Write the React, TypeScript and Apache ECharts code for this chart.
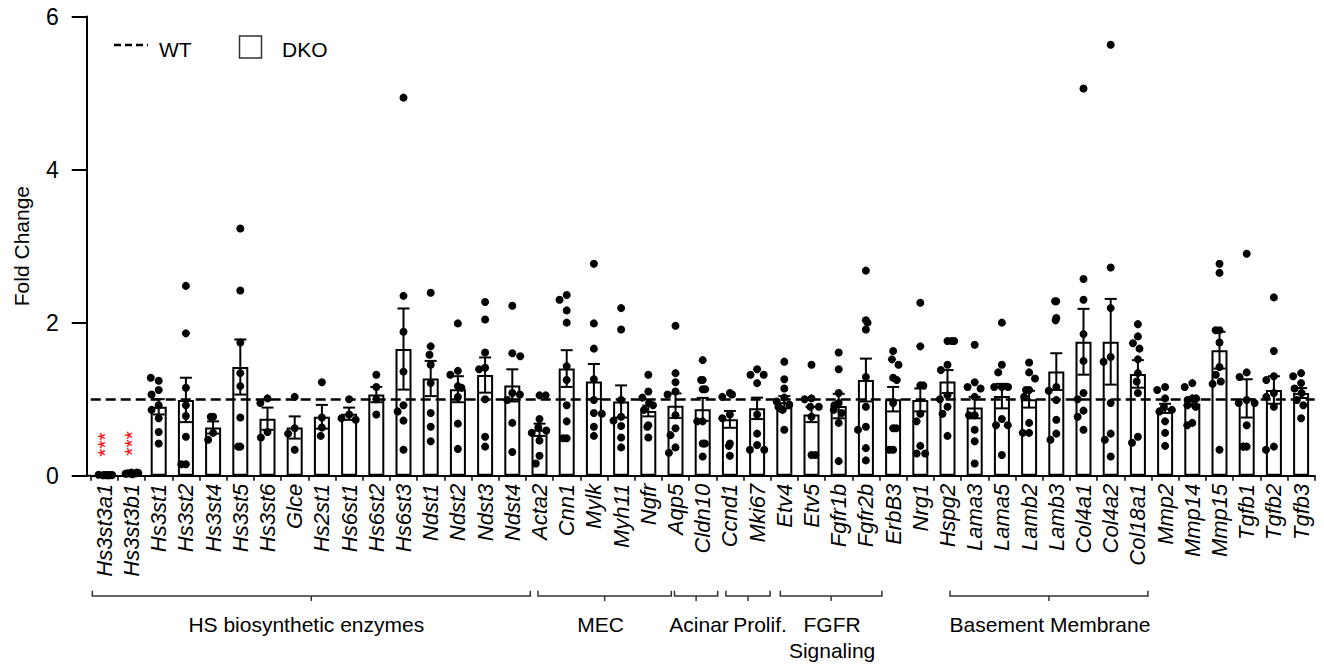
import React, { useEffect, useRef } from "react";
import * as echarts from "echarts";

// ---------------- DATA ----------------
const genes = [
  "Hs3st3a1", "Hs3st3b1", "Hs3st1", "Hs3st2", "Hs3st4", "Hs3st5", "Hs3st6", "Glce",
  "Hs2st1", "Hs6st1", "Hs6st2", "Hs6st3", "Ndst1", "Ndst2", "Ndst3", "Ndst4",
  "Acta2", "Cnn1", "Mylk", "Myh11", "Ngfr",
  "Aqp5", "Cldn10",
  "Ccnd1", "Mki67",
  "Etv4", "Etv5", "Fgfr1b", "Fgfr2b", "ErbB3", "Nrg1",
  "Hspg2", "Lama3", "Lama5", "Lamb2", "Lamb3", "Col4a1", "Col4a2", "Col18a1",
  "Mmp2", "Mmp14", "Mmp15", "Tgfb1", "Tgfb2", "Tgfb3",
];

// DKO mean fold change (bar heights)
const means = [
  0.005, 0.03, 0.90, 0.99, 0.63, 1.42, 0.745, 0.63,
  0.77, 0.81, 1.06, 1.655, 1.27, 1.13, 1.315, 1.18,
  0.60, 1.40, 1.23, 0.97, 0.845,
  0.915, 0.867,
  0.736, 0.88,
  0.96, 0.80, 0.91, 1.25, 1.0, 0.99,
  1.23, 0.89, 1.04, 1.0, 1.36, 1.75, 1.75, 1.33,
  0.88, 0.945, 1.64, 1.01, 1.12, 1.08,
];

// standard error of the mean (half length of error bar)
const sems = [
  0.003, 0.005, 0.10, 0.29, 0.08, 0.36, 0.145, 0.145,
  0.155, 0.08, 0.10, 0.53, 0.23, 0.17, 0.23, 0.21,
  0.08, 0.24, 0.23, 0.21, 0.07,
  0.16, 0.15,
  0.11, 0.14,
  0.08, 0.10, 0.16, 0.28, 0.16, 0.15,
  0.15, 0.14, 0.16, 0.11, 0.24, 0.43, 0.56, 0.18,
  0.06, 0.04, 0.24, 0.25, 0.18, 0.065,
];

// individual animals
const points = [
  [0.01, 0.005, 0.008, 0.012, 0.006, 0.01, 0.004, 0.009],
  [0.04, 0.03, 0.025, 0.035, 0.03, 0.02, 0.04, 0.03],
  [1.24, 1.28, 1.12, 1.06, 0.92, 0.86, 0.75, 0.57, 0.42],
  [2.48, 1.86, 1.15, 0.92, 0.78, 0.51, 0.15, 0.15],
  [0.77, 0.77, 0.56, 0.47],
  [3.23, 2.42, 1.74, 1.34, 1.17, 0.76, 0.38, 0.38],
  [1.01, 0.95, 0.57, 0.50],
  [1.03, 0.62, 0.55, 0.34],
  [1.22, 0.76, 0.63, 0.52],
  [1.0, 0.80, 0.75, 0.73],
  [1.32, 1.16, 1.0, 0.80],
  [4.94, 2.35, 1.88, 1.36, 0.92, 0.84, 0.72, 0.34],
  [2.39, 1.69, 1.58, 1.45, 1.21, 0.82, 0.64, 0.45],
  [1.99, 1.37, 1.32, 1.17, 1.15, 1.03, 0.68, 0.35],
  [2.27, 2.04, 1.61, 1.41, 1.39, 1.0, 0.51, 0.38],
  [2.22, 1.6, 1.56, 1.08, 1.06, 0.99, 0.69, 0.31],
  [1.05, 1.05, 0.74, 0.63, 0.59, 0.56, 0.46, 0.26, 0.16],
  [2.36, 2.30, 2.16, 2.0, 1.43, 1.25, 0.92, 0.71, 0.49, 0.49],
  [2.77, 1.99, 1.66, 1.26, 0.99, 0.82, 0.81, 0.64, 0.52],
  [2.19, 1.91, 0.99, 0.77, 0.72, 0.65, 0.50, 0.37],
  [1.32, 1.10, 1.02, 0.95, 0.92, 0.86, 0.66, 0.64, 0.50],
  [1.96, 1.34, 1.22, 1.10, 1.06, 0.79, 0.62, 0.53, 0.37, 0.30],
  [1.51, 1.25, 1.25, 1.13, 1.13, 0.71, 0.71, 0.42, 0.42, 0.25],
  [1.08, 1.06, 1.03, 0.80, 0.75, 0.42, 0.39, 0.26],
  [1.39, 1.32, 1.32, 1.21, 0.80, 0.55, 0.40, 0.34, 0.34],
  [1.49, 1.26, 1.14, 1.02, 0.97, 0.93, 0.90, 0.88, 0.86, 0.60],
  [1.45, 1.01, 1.0, 0.90, 0.90, 0.77, 0.27, 0.27],
  [1.61, 1.39, 1.08, 0.95, 0.92, 0.86, 0.82, 0.69, 0.19],
  [2.68, 2.03, 2.0, 1.91, 1.29, 0.90, 0.64, 0.60, 0.36, 0.20],
  [1.63, 1.52, 1.45, 1.28, 1.25, 0.95, 0.62, 0.62, 0.34, 0.34],
  [2.26, 1.69, 1.18, 1.18, 0.81, 0.71, 0.39, 0.29, 0.29],
  [1.76, 1.76, 1.76, 1.45, 1.38, 1.05, 1.0, 0.90, 0.81, 0.52],
  [1.71, 1.22, 1.16, 1.14, 1.03, 0.79, 0.79, 0.60, 0.45, 0.16],
  [2.0, 1.45, 1.35, 1.16, 1.16, 1.16, 0.74, 0.66, 0.66, 0.27],
  [1.48, 1.35, 1.27, 1.12, 1.12, 1.03, 0.69, 0.56, 0.56],
  [2.28, 2.28, 2.06, 2.03, 1.16, 1.11, 0.99, 0.73, 0.55, 0.47],
  [5.06, 2.57, 2.30, 1.85, 1.50, 1.08, 1.0, 0.85, 0.77, 0.60],
  [5.63, 2.72, 2.19, 1.55, 1.49, 0.95, 0.55, 0.47, 0.25],
  [1.98, 1.82, 1.73, 1.66, 1.52, 1.34, 1.23, 1.08, 0.51, 0.43],
  [1.16, 1.12, 1.01, 0.90, 0.86, 0.84, 0.71, 0.56, 0.39],
  [1.21, 1.16, 1.01, 1.01, 1.0, 0.99, 0.92, 0.90, 0.69, 0.66],
  [2.77, 2.65, 1.90, 1.90, 1.74, 1.42, 1.32, 1.23, 1.20, 0.34],
  [2.90, 1.35, 1.29, 0.99, 0.95, 0.95, 0.66, 0.38, 0.38, 0.38],
  [2.33, 1.63, 1.30, 1.25, 1.08, 1.03, 0.90, 0.38, 0.34],
  [1.34, 1.30, 1.21, 1.14, 1.08, 0.99, 0.92, 0.75],
];

const significance: Record<string, string> = { Hs3st3a1: "***", Hs3st3b1: "***" };

const wtLevel = 1;
const yMin = 0;
const yMax = 6;
const yStep = 2;

const groups = [
  { label: "HS biosynthetic enzymes", from: "Hs3st3a1", to: "Ndst4" },
  { label: "MEC", from: "Acta2", to: "Ngfr" },
  { label: "Acinar", from: "Aqp5", to: "Cldn10" },
  { label: "Prolif.", from: "Ccnd1", to: "Mki67" },
  { label: "FGFR\nSignaling", from: "Etv4", to: "Fgfr2b" },
  { label: "Basement Membrane", from: "Hspg2", to: "Col18a1" },
];

const legendNames = { wt: "WT", dko: "DKO" };
const yName = "Fold Change";

// ---------------- LAYOUT / STYLE ----------------
const FONT = "'Liberation Sans', Arial, Helvetica, sans-serif";
const GRID = { left: 90.7, right: 9.3, top: 16.5, bottom: 189.3 };
const BRACKET_PAD = [[-12, 18], [-1.5, 23], [-1, 15], [-4, 13], [-4, 16], [2.5, 10]];
const LABEL_DX = [-5, -4, 3, 12, 1, 1];
const BRACKET_TOP = 590.7;
const BRACKET_Y = 596;
const BRACKET_TICK = 601;
const GROUP_LABEL_Y = 624;

export default function App() {
  const ref = useRef<HTMLDivElement>(null);

  useEffect(() => {
    document.body.style.margin = "0";
    if (!ref.current) return;
    const chart = echarts.init(ref.current, undefined, { renderer: "svg" });

    const barData = means.map((m, i) => {
      const sig = significance[genes[i]];
      if (!sig) return m;
      return {
        value: m,
        label: {
          show: true,
          formatter: sig,
          position: "top",
          distance: 30,
          rotate: 90,
          color: "#ff0000",
          fontSize: 21,
          fontFamily: FONT,
          align: "center",
          verticalAlign: "middle",
        },
      };
    });

    const scatterData: [string, number][] = [];
    points.forEach((arr, i) => arr.forEach((v) => scatterData.push([genes[i], v])));

    const errData = means.map((m, i) => [i, m - sems[i], m + sems[i]]);

    chart.setOption({
      animation: false,
      backgroundColor: "#ffffff",
      textStyle: { fontFamily: FONT },
      grid: GRID,
      xAxis: {
        type: "category",
        data: genes,
        jitter: 16,
        jitterOverlap: false,
        jitterMargin: 0.5,
        axisLine: { lineStyle: { color: "#000", width: 2 } },
        axisTick: { show: true, interval: 0, length: 5, lineStyle: { color: "#000", width: 1.5 } },
        axisLabel: {
          interval: 0,
          rotate: 90,
          margin: 8,
          fontSize: 22,
          fontStyle: "italic",
          color: "#000",
          fontFamily: FONT,
        },
        splitLine: { show: false },
      },
      yAxis: {
        type: "value",
        min: yMin,
        max: yMax,
        interval: yStep,
        offset: 4,
        name: yName,
        nameLocation: "middle",
        nameRotate: 90,
        nameGap: 55,
        nameTextStyle: { fontSize: 21, color: "#000", fontFamily: FONT },
        axisLine: { show: true, lineStyle: { color: "#000", width: 2 } },
        axisTick: { show: true, length: 15, lineStyle: { color: "#000", width: 2 } },
        axisLabel: { fontSize: 23, color: "#000", margin: 28, fontFamily: FONT },
        splitLine: { show: false },
      },
      series: [
        {
          name: legendNames.dko,
          type: "bar",
          data: barData,
          barWidth: 16,
          itemStyle: { color: "#ffffff", borderColor: "#000", borderWidth: 2 },
          z: 2,
        },
        {
          name: "points",
          type: "scatter",
          data: scatterData,
          symbol: "circle",
          symbolSize: 8,
          itemStyle: { color: "#000", opacity: 1 },
          z: 3,
          markLine: {
            silent: true,
            symbol: "none",
            label: { show: false },
            lineStyle: { color: "#000", width: 2.5, type: [10, 5], opacity: 1 },
            data: [{ yAxis: wtLevel }],
          },
        },
        {
          name: "sem",
          type: "custom",
          data: errData,
          z: 4,
          renderItem: (params: any, api: any) => {
            const x = api.value(0);
            const lo = api.coord([x, api.value(1)]);
            const hi = api.coord([x, api.value(2)]);
            const cap = 6;
            const style = { stroke: "#000", lineWidth: 2 };
            return {
              type: "group",
              children: [
                { type: "line", shape: { x1: lo[0], y1: lo[1], x2: hi[0], y2: hi[1] }, style },
                { type: "line", shape: { x1: hi[0] - cap, y1: hi[1], x2: hi[0] + cap, y2: hi[1] }, style },
                { type: "line", shape: { x1: lo[0] - cap, y1: lo[1], x2: lo[0] + cap, y2: lo[1] }, style },
              ],
            };
          },
        },
      ],
    });

    // annotations (legend, group brackets)
    const px = (name: string) => chart.convertToPixel({ xAxisIndex: 0 }, name) as number;
    const y0 = chart.convertToPixel({ yAxisIndex: 0 }, 0) as number;
    const graphics: any[] = [
      {
        type: "line",
        shape: { x1: GRID.left - 5, y1: y0, x2: GRID.left, y2: y0 },
        style: { stroke: "#000", lineWidth: 2 },
      },
      {
        type: "line",
        shape: { x1: 114, y1: 45, x2: 148, y2: 45 },
        style: { stroke: "#000", lineWidth: 2.5, lineDash: [7, 4] },
      },
      {
        type: "text",
        x: 159,
        y: 49,
        style: { text: legendNames.wt, fontSize: 21, fontFamily: FONT, fill: "#000", align: "left", verticalAlign: "middle" },
      },
      {
        type: "rect",
        shape: { x: 239.5, y: 36, width: 22, height: 22 },
        style: { fill: "#fff", stroke: "#333", lineWidth: 1.5 },
      },
      {
        type: "text",
        x: 282,
        y: 49,
        style: { text: legendNames.dko, fontSize: 21, fontFamily: FONT, fill: "#000", align: "left", verticalAlign: "middle" },
      },
    ];

    groups.forEach((g, k) => {
      const left = px(g.from) + BRACKET_PAD[k][0];
      const right = px(g.to) + BRACKET_PAD[k][1];
      const mid = (left + right) / 2;
      graphics.push({
        type: "polyline",
        shape: {
          points: [
            [left, BRACKET_TOP],
            [left, BRACKET_Y],
            [right, BRACKET_Y],
            [right, BRACKET_TOP],
          ],
        },
        style: { stroke: "#333", lineWidth: 1.5, fill: null },
      });
      graphics.push({
        type: "line",
        shape: { x1: mid, y1: BRACKET_Y, x2: mid, y2: BRACKET_TICK },
        style: { stroke: "#333", lineWidth: 1.5 },
      });
      graphics.push({
        type: "text",
        x: mid + LABEL_DX[k],
        y: GROUP_LABEL_Y - 13,
        style: {
          text: g.label,
          fontSize: 21,
          lineHeight: 26,
          fontFamily: FONT,
          fill: "#000",
          align: "center",
          verticalAlign: "top",
        },
      });
    });

    chart.setOption({ graphic: graphics });

    return () => chart.dispose();
  }, []);

  return <div ref={ref} style={{ width: 1324, height: 665 }} />;
}
